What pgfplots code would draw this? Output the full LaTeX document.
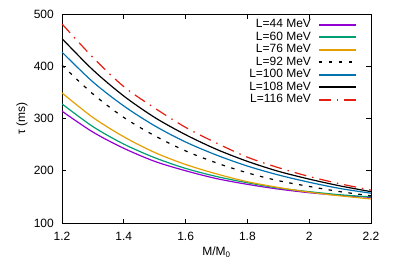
\documentclass[border=0pt]{standalone}
\usepackage{fontspec}
\setmainfont{Liberation Sans}
\usepackage{pgfplots}
\usepackage{pgfplotstable}
\pgfplotsset{compat=1.18}
\definecolor{gpviolet}{HTML}{9400D3}
\definecolor{gpgreen}{HTML}{009E73}
\definecolor{gporange}{HTML}{E69F00}
\definecolor{gpblue}{HTML}{0072B2}
\definecolor{gpred}{HTML}{E51E10}
\pgfplotstableread{
x L44 L60 L76 L92 L100 L108 L116
1.2 314 328 349 402 427 453 481
1.3 274 284.5 302 347 370 393 417
1.4 243 251 265 302 324 343 361
1.5 218 225 235 267 286 302 320
1.6 200 204.5 212 238 255 269 283
1.7 185 189 194 215 230 241 253
1.8 174 177 179 196 209 218 226
1.9 165 167 168 181 192 199 206
2.0 158 160 159 170 178 184 189
2.1 153 154 152 160 166 171 175
2.2 149 150 146 152 157 160 163
}\data
\begin{document}
\fontsize{12}{14}\selectfont
\begin{tikzpicture}
\begin{axis}[
  scale only axis, width=309pt, height=209pt,
  xmin=1.2, xmax=2.2, ymin=100, ymax=500,
  xtick={1.2,1.4,1.6,1.8,2,2.2},
  xticklabels={1.2,1.4,1.6,1.8,2,2.2},
  ytick={100,200,300,400,500},
  yticklabels={100,200,300,400,500},
  tick align=inside, major tick length=4.5pt,
  axis line style={line width=0.9pt},
  every tick/.style={line width=0.9pt, black},
  tick label style={font=\fontsize{12}{14}\selectfont},
  xticklabel style={yshift=-5pt},
  yticklabel style={xshift=-4pt},
  /pgf/number format/assume math mode=true,
  xlabel={M/M\textsubscript{0}},
  ylabel={τ (ms)},
  label style={font=\fontsize{12}{14}\selectfont},
  xlabel style={yshift=2pt},
  ylabel style={yshift=-2pt},
  legend style={at={(1,1)}, anchor=north east, xshift=-14pt, yshift=-4.4pt,
    draw=none, fill=none, inner sep=0pt, font=\fontsize{12}{14}\selectfont,
    nodes={inner sep=0pt, text height=9pt, text depth=3.5pt},
    /tikz/every odd column/.style={column sep=7pt}},
  legend cell align=right,
  legend plot pos=right,
  legend image code/.code={\draw[line width=1.8pt, #1] (0pt,0pt) -- (37pt,0pt);},
  every axis plot/.append style={line width=1.2pt},
]
\addplot[color=gpviolet, smooth] table[x=x, y=L44] {\data};
\addlegendentry{L=44 MeV}
\addplot[color=gpgreen, smooth] table[x=x, y=L60] {\data};
\addlegendentry{L=60 MeV}
\addplot[color=gporange, smooth] table[x=x, y=L76] {\data};
\addlegendentry{L=76 MeV}
\addplot[color=black, smooth, dash pattern=on 3.5pt off 6.5pt] table[x=x, y=L92] {\data};
\addlegendentry{L=92 MeV}
\addplot[color=gpblue, smooth] table[x=x, y=L100] {\data};
\addlegendentry{L=100 MeV}
\addplot[color=black, smooth] table[x=x, y=L108] {\data};
\addlegendentry{L=108 MeV}
\addplot[color=gpred, smooth, dash pattern=on 12pt off 6pt on 1.5pt off 6pt] table[x=x, y=L116] {\data};
\addlegendentry{L=116 MeV}
\end{axis}
\path (current axis.south west) ++(-62pt,-54pt) rectangle ++(394pt,277pt);
\end{tikzpicture}
\end{document}
